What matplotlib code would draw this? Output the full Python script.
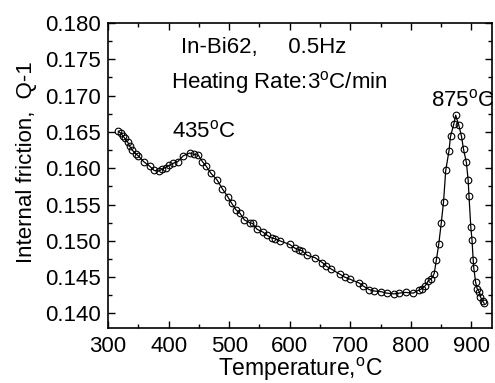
import numpy as np
import matplotlib.pyplot as plt
from matplotlib.ticker import MultipleLocator

plt.rcParams['font.family'] = ['Liberation Sans', 'DejaVu Sans']
plt.rcParams['mathtext.fontset'] = 'custom'
plt.rcParams['mathtext.rm'] = 'Liberation Sans'

# temperature (C) and internal friction Q-1
temperature = [317, 321.5, 325, 328, 332.5, 336, 340, 345.6, 350, 359, 368.6, 376, 384,
               389.6, 395, 401, 408, 415, 424, 435, 442.5, 449, 456, 462, 470, 480,
               488.6, 497.5, 504, 511, 518, 525, 534, 538.6, 546, 556, 562, 570, 575.5,
               584, 600, 608.5, 615, 621, 629, 641.5, 654, 660.7, 669, 683, 691, 700,
               714.6, 721, 731, 739, 751, 760, 772, 780.5, 791.6, 803.7, 813, 818, 823.6,
               829, 834, 838.6, 842, 846, 850.3, 854, 857.6, 863, 865.5, 871, 874, 879,
               883.6, 887, 891.7, 894.6, 896, 899, 901, 903, 904, 907, 909.5, 913, 915,
               918.5, 921]
friction = [0.1651, 0.1648, 0.1644, 0.1641, 0.1636, 0.1630, 0.1625, 0.1620, 0.1617,
            0.1609, 0.1603, 0.1597, 0.1596, 0.1599, 0.1601, 0.1604, 0.1607, 0.1609,
            0.1617, 0.1621, 0.1619, 0.1618, 0.1609, 0.1603, 0.1593, 0.1584, 0.1572,
            0.1561, 0.1552, 0.1543, 0.1538, 0.1529, 0.1525, 0.1524, 0.1516, 0.1512,
            0.1508, 0.1504, 0.1503, 0.1500, 0.1495, 0.1490, 0.1488, 0.1486, 0.1480,
            0.1477, 0.1470, 0.1465, 0.1461, 0.1454, 0.1450, 0.1447, 0.1442, 0.1438,
            0.1433, 0.1431, 0.1430, 0.1428, 0.1427, 0.1428, 0.1429, 0.1428, 0.1432,
            0.1434, 0.1438, 0.1445, 0.1448, 0.1455, 0.1473, 0.1495, 0.1525, 0.1554,
            0.1597, 0.1624, 0.1644, 0.1661, 0.1673, 0.1660, 0.1644, 0.1626, 0.1608,
            0.1584, 0.1562, 0.1519, 0.1501, 0.1473, 0.1462, 0.1443, 0.1434, 0.1430,
            0.1423, 0.1417, 0.1414]
ytick_vals = [0.140, 0.145, 0.150, 0.155, 0.160, 0.165, 0.170, 0.175, 0.180]

fig = plt.figure(figsize=(4.95, 3.83), dpi=100)
ax = fig.add_axes([108 / 495, 1 - 328 / 383, 384 / 495, 305 / 383])

ax.plot(temperature, friction, '-', color='black', lw=0.9,
        marker='o', mfc='none', mec='black', ms=4.8, mew=0.8)

ax.set_xlim(300, 934)
ax.set_ylim(0.138, 0.180)
ax.xaxis.set_major_locator(MultipleLocator(100))
ax.xaxis.set_minor_locator(MultipleLocator(50))
ax.yaxis.set_minor_locator(MultipleLocator(0.0025))
ax.set_yticks(ytick_vals)
ax.set_yticklabels([f'{v:.3f}' for v in ytick_vals])
ax.tick_params(which='both', direction='in', top=True, right=True, labelsize=16,
               width=1)
ax.tick_params(axis='y', pad=5)
ax.tick_params(axis='x', pad=6)
ax.tick_params(which='major', length=5)
ax.tick_params(which='minor', length=3)
for s in ax.spines.values():
    s.set_linewidth(1.2)

ax.set_xlabel(r'Temperature,$^{\mathrm{o}}$C', fontsize=16.5, labelpad=-1)
ax.set_ylabel('Internal friction,  Q-1', fontsize=16)
ax.yaxis.set_label_coords(-0.185, 0.545)

ax.text(0.19, 0.90, 'In-Bi62,     0.5Hz', transform=ax.transAxes, fontsize=16)
ax.text(0.164, 0.787, r'Heating Rate:3$^{\mathrm{o}}$C/min', transform=ax.transAxes, fontsize=16)
ax.text(0.167, 0.626, r'435$^{\mathrm{o}}$C', transform=ax.transAxes, fontsize=16)
ax.text(0.841, 0.728, r'875$^{\mathrm{o}}$C', transform=ax.transAxes, fontsize=16)

fig.savefig('out.png', dpi=100)
